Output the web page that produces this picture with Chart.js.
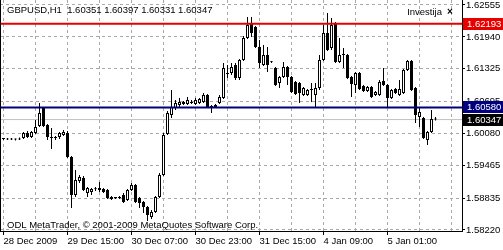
<!DOCTYPE html>
<html>
<head>
<meta charset="utf-8">
<script src="https://cdn.jsdelivr.net/npm/chart.js@4.4.1/dist/chart.umd.min.js"></script>
<style>
  html, body { margin: 0; padding: 0; background: #fff; }
</style>
</head>
<body>
<canvas id="chart" width="503" height="250"></canvas>
<script>
const symbol = "GBPUSD,H1";

// hourly bars, oldest first
const openP = [
  1.59972, 1.59972, 1.59962, 1.59972, 1.59962, 1.59992, 1.60088, 1.60011, 1.60088, 1.60223,
  1.60570, 1.60242, 1.60011, 1.59992, 1.60011, 1.60050, 1.60088, 1.59626, 1.58893, 1.59163,
  1.59221, 1.58932, 1.58951, 1.59009, 1.58990, 1.59009, 1.58990, 1.58855, 1.58836, 1.58836,
  1.58893, 1.58797, 1.58990, 1.59086, 1.58836, 1.58758, 1.58662, 1.58469, 1.58566, 1.58855,
  1.59279, 1.60069, 1.60435, 1.60570, 1.60628, 1.60647, 1.60647, 1.60666, 1.60647, 1.60666,
  1.60685, 1.60820, 1.60608, 1.60589, 1.60666, 1.60763, 1.61225, 1.61244, 1.61398, 1.61148,
  1.61495, 1.61919, 1.62208, 1.62131, 1.61745, 1.61398, 1.61591, 1.61456, 1.61341, 1.61052,
  1.61167, 1.61360, 1.61167, 1.61071, 1.61052, 1.60820, 1.60820, 1.60917, 1.60820, 1.60955,
  1.61495, 1.62015, 1.61726, 1.62208, 1.61456, 1.61610, 1.61591, 1.61167, 1.61013, 1.61244,
  1.60994, 1.60897, 1.60975, 1.60820, 1.60820, 1.61090, 1.61013, 1.60763, 1.60936, 1.60820,
  1.60859, 1.61302, 1.61476, 1.60955, 1.60396, 1.60377, 1.59953, 1.60107, 1.60351
];
const highP = [
  1.59992, 1.59992, 1.59992, 1.59982, 1.60001, 1.60107, 1.60127, 1.60127, 1.60339, 1.60666,
  1.60589, 1.60262, 1.60184, 1.60030, 1.60107, 1.60146, 1.60127, 1.59645, 1.59375, 1.59279,
  1.59259, 1.59048, 1.59028, 1.59048, 1.59144, 1.59028, 1.59009, 1.58874, 1.58855, 1.58874,
  1.58932, 1.59009, 1.59125, 1.59105, 1.58855, 1.58778, 1.58681, 1.58604, 1.58874, 1.59317,
  1.60088, 1.60512, 1.60917, 1.60724, 1.60763, 1.60705, 1.60782, 1.60724, 1.60763, 1.60763,
  1.60859, 1.60840, 1.60628, 1.60647, 1.60820, 1.61437, 1.61398, 1.61437, 1.61437, 1.61514,
  1.61957, 1.62323, 1.62323, 1.62150, 1.61880, 1.61784, 1.61745, 1.61476, 1.61360, 1.61186,
  1.61456, 1.61379, 1.61186, 1.61090, 1.61071, 1.60975, 1.60936, 1.61052, 1.61052, 1.61591,
  1.62169, 1.62400, 1.62304, 1.62227, 1.61919, 1.61726, 1.61610, 1.61186, 1.61264, 1.61264,
  1.61013, 1.60994, 1.60994, 1.60897, 1.61109, 1.61341, 1.61032, 1.60936, 1.60955, 1.61109,
  1.61321, 1.61495, 1.61495, 1.60975, 1.60570, 1.60396, 1.60127, 1.60531, 1.60397
];
const lowP = [
  1.59953, 1.59953, 1.59953, 1.59943, 1.59953, 1.59972, 1.59992, 1.59992, 1.60069, 1.60204,
  1.60204, 1.59953, 1.59780, 1.59953, 1.59972, 1.60030, 1.59606, 1.58643, 1.58855, 1.59125,
  1.58970, 1.58855, 1.58893, 1.58970, 1.58951, 1.58932, 1.58816, 1.58797, 1.58816, 1.58816,
  1.58739, 1.58778, 1.58970, 1.58739, 1.58643, 1.58546, 1.58392, 1.58431, 1.58546, 1.58836,
  1.59259, 1.60050, 1.60377, 1.60531, 1.60589, 1.60628, 1.60628, 1.60647, 1.60628, 1.60647,
  1.60666, 1.60570, 1.60473, 1.60570, 1.60647, 1.60743, 1.61148, 1.61206, 1.61109, 1.61109,
  1.61476, 1.61899, 1.61938, 1.61726, 1.61341, 1.61379, 1.61264, 1.61437, 1.60994, 1.60955,
  1.61148, 1.61013, 1.60859, 1.60820, 1.60666, 1.60801, 1.60801, 1.60685, 1.60589, 1.60917,
  1.61476, 1.61668, 1.61687, 1.61437, 1.61437, 1.61341, 1.61129, 1.60782, 1.60859, 1.60917,
  1.60878, 1.60878, 1.60763, 1.60801, 1.60801, 1.60994, 1.60589, 1.60743, 1.60840, 1.60801,
  1.60840, 1.61283, 1.60897, 1.60281, 1.60204, 1.59972, 1.59857, 1.60088, 1.60331
];
const closeP = [
  1.59972, 1.59962, 1.59972, 1.59962, 1.59982, 1.60088, 1.60011, 1.60107, 1.60204, 1.60473,
  1.60223, 1.60011, 1.59992, 1.59990, 1.60088, 1.60107, 1.59626, 1.58893, 1.59182, 1.59240,
  1.58990, 1.59028, 1.59009, 1.59005, 1.59028, 1.58951, 1.58836, 1.58816, 1.58840, 1.58855,
  1.58758, 1.58990, 1.59086, 1.58758, 1.58739, 1.58662, 1.58508, 1.58566, 1.58855, 1.59279,
  1.60050, 1.60473, 1.60589, 1.60666, 1.60685, 1.60685, 1.60724, 1.60685, 1.60724, 1.60743,
  1.60820, 1.60589, 1.60570, 1.60628, 1.60782, 1.61341, 1.61244, 1.61360, 1.61148, 1.61495,
  1.61919, 1.62169, 1.62015, 1.61745, 1.61437, 1.61591, 1.61398, 1.61452, 1.61013, 1.61167,
  1.61360, 1.61167, 1.60878, 1.60840, 1.60859, 1.60955, 1.60917, 1.60936, 1.60955, 1.61495,
  1.62015, 1.61687, 1.62169, 1.61456, 1.61591, 1.61591, 1.61148, 1.61032, 1.61244, 1.60936,
  1.60897, 1.60975, 1.60782, 1.60878, 1.61071, 1.61013, 1.60763, 1.60917, 1.60859, 1.60936,
  1.61302, 1.61476, 1.60917, 1.60435, 1.60493, 1.59992, 1.60107, 1.60358, 1.60347
];

const xTickIdx = [0, 16, 32, 48, 64, 80, 96];
const xTickLabels = ["28 Dec 2009", "29 Dec 15:00", "30 Dec 07:00", "30 Dec 23:00",
                     "31 Dec 15:00", "4 Jan 09:00", "5 Jan 01:00"];
const yTicks = [1.62555, 1.61940, 1.61325, 1.60695, 1.60080, 1.59465, 1.58835, 1.58220];

const levels = [1.62193, 1.60580];
const levelColors = ['#e60000', '#000080'];

// view window (bars are 4px apart)
const X_MIN = -0.875, X_MAX = 114.625;
const Y_MIN = 1.58200, Y_MAX = 1.62651;

const GRID = '#a9a9a9';
const FONT = '9.5px "Liberation Sans", Arial, sans-serif';
Chart.defaults.font.family = '"Liberation Sans", Arial, sans-serif';
Chart.defaults.font.size = 9.5;
Chart.defaults.color = '#000';

const idx = openP.map((_, i) => i);
const bull = idx.map(i => closeP[i] >= openP[i]);
const last = idx.length - 1;
const bid = closeP[last];
const hline = v => [{x: X_MIN, y: v}, {x: X_MAX, y: v}];

const header = symbol + "  " + [openP[last], highP[last], lowP[last], closeP[last]]
  .map(v => v.toFixed(5)).join(" ");

const mtOverlay = {
  id: 'mtOverlay',
  afterDraw(chart) {
    const {ctx, chartArea: a} = chart;
    const y = chart.scales.y;
    ctx.save();
    ctx.strokeStyle = '#000';
    ctx.lineWidth = 1;
    ctx.beginPath();
    ctx.moveTo(a.left + 0.5, a.top);
    ctx.lineTo(a.left + 0.5, a.bottom);
    ctx.stroke();

    ctx.font = FONT;
    ctx.fillStyle = '#000';
    ctx.textBaseline = 'middle';
    ctx.fillText(header, 7, 10);
    ctx.fillText("ODL MetaTrader, \u00a9 2001-2009 MetaQuotes Software Corp.", 7, 225);
    ctx.textAlign = 'right';
    ctx.fillText("Investija", 442, 12.5);
    ctx.textAlign = 'left';
    ctx.font = 'bold 10px "Liberation Sans", Arial, sans-serif';
    ctx.fillText("\u00d7", 447, 12.5);

    // price tags on the axis
    ctx.font = FONT;
    const tags = levels.map((v, k) => [v, levelColors[k]]).concat([[bid, '#000']]);
    tags.forEach(([v, c]) => {
      const py = Math.round(y.getPixelForValue(v));
      ctx.fillStyle = c;
      ctx.fillRect(a.right + 1, py - 6, 503 - a.right - 1, 12);
      ctx.fillStyle = '#fff';
      ctx.fillText(v.toFixed(5), a.right + 5, py);
    });
    ctx.restore();
  }
};

new Chart(document.getElementById('chart'), {
  type: 'bar',
  data: {
    datasets: [
      {type: 'line', data: hline(levels[0]), borderColor: levelColors[0], borderWidth: 2, pointRadius: 0, order: 0},
      {type: 'line', data: hline(levels[1]), borderColor: levelColors[1], borderWidth: 2, pointRadius: 0, order: 0},
      {
        data: idx.map(i => ({x: i, y: [openP[i], closeP[i]]})),
        backgroundColor: bull.map(b => b ? '#fff' : '#000'),
        borderColor: '#000', borderWidth: 1, borderSkipped: false,
        barThickness: 3, minBarLength: 1, grouped: false, inflateAmount: 0, order: 1
      },
      {
        data: idx.map(i => ({x: i, y: [lowP[i], highP[i]]})),
        backgroundColor: '#000', borderWidth: 0,
        barThickness: 1, grouped: false, inflateAmount: 0, order: 2
      },
      {type: 'line', data: hline(bid), borderColor: '#c0c0c0', borderWidth: 1, pointRadius: 0, order: 3}
    ]
  },
  options: {
    responsive: false,
    animation: false,
    layout: {padding: 0},
    plugins: {legend: {display: false}, tooltip: {enabled: false}, title: {display: false}},
    scales: {
      x: {
        type: 'linear', min: X_MIN, max: X_MAX, offset: false,
        grid: {
          offset: false, color: GRID, tickLength: 4, tickBorderDash: [],
          tickColor: ctx => (ctx.tick && xTickIdx.includes(ctx.tick.value)) ? '#000' : 'rgba(0,0,0,0)'
        },
        border: {color: '#000', dash: [3, 3]},
        ticks: {
          autoSkip: false, maxRotation: 0, minRotation: 0, align: 'start', padding: 1,
          callback: v => {
            const k = xTickIdx.indexOf(v);
            return k >= 0 ? xTickLabels[k] : '';
          }
        },
        afterBuildTicks: s => {
          const t = [];
          for (let v = 0; v <= X_MAX; v += 8) t.push({value: v});
          s.ticks = t;
        },
        afterFit: s => { s.height = 19; s.paddingLeft = 0; s.paddingRight = 0; }
      },
      y: {
        position: 'right', min: Y_MIN, max: Y_MAX,
        grid: {color: GRID, tickColor: '#000', tickLength: 3, tickBorderDash: []},
        border: {color: '#000', dash: [3, 3]},
        ticks: {padding: 1, callback: v => v.toFixed(5)},
        afterBuildTicks: s => { s.ticks = yTicks.map(v => ({value: v})); },
        afterFit: s => { s.width = 41; s.paddingTop = 0; s.paddingBottom = 0; }
      }
    }
  },
  plugins: [mtOverlay]
});
</script>
</body>
</html>
